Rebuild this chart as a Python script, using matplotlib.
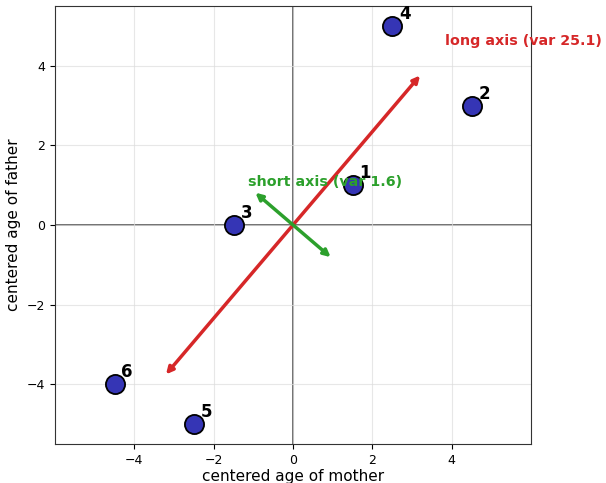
import numpy as np
import matplotlib
matplotlib.use("Agg")
import matplotlib.pyplot as plt

# centered ages of six couples
mother = [1.5, 4.5, -1.5, 2.5, -2.5, -4.5]
father = [1.0, 3.0, 0.0, 5.0, -5.0, -4.0]
labels = ["1", "2", "3", "4", "5", "6"]

# principal axes from the covariance matrix
data = np.array([mother, father])
cov = np.cov(data)
evals, evecs = np.linalg.eigh(cov)
order = np.argsort(evals)[::-1]
evals = evals[order]
evecs = evecs[:, order]
if evecs[0, 0] < 0:
    evecs[:, 0] *= -1
if evecs[0, 1] > 0:
    evecs[:, 1] *= -1

fig = plt.figure(figsize=(6.06, 4.83), dpi=100)
ax = fig.add_axes([0.0908, 0.081, 0.7855, 0.9066])

ax.axhline(0, color="#555555", lw=1.2, zorder=1)
ax.axvline(0, color="#555555", lw=1.2, zorder=1)
ax.grid(True, color="#dddddd", lw=0.8, alpha=0.7, zorder=0)

ax.scatter(mother, father, s=190, color="#3535b5", edgecolor="black",
           linewidth=1.3, zorder=4)
for x, y, lab in zip(mother, father, labels):
    ax.annotate(lab, (x, y), xytext=(5, 5), textcoords="offset points",
                fontsize=12, fontweight="bold", zorder=5)

colors = ["#d62728", "#2ca02c"]
names = ["long axis", "short axis"]
for i in range(2):
    v = evecs[:, i] * np.sqrt(evals[i]) * 0.985
    ax.annotate("", xy=(v[0], v[1]), xytext=(-v[0], -v[1]),
                arrowprops=dict(arrowstyle="<|-|>", color=colors[i], lw=2.5,
                                mutation_scale=10, shrinkA=0, shrinkB=0),
                zorder=3)
    ax.text(1.2 * v[0], 1.2 * v[1] + 0.11, f"{names[i]} (var {evals[i]:.1f})",
            color=colors[i], fontsize=10.3, fontweight="bold",
            ha="left", va="center", zorder=6, clip_on=False)

ax.set_xlim(-6, 6)
ax.set_ylim(-5.5, 5.5)
ax.set_xticks([-4, -2, 0, 2, 4])
ax.set_yticks([-4, -2, 0, 2, 4])
ax.tick_params(labelsize=9)
for sp in ax.spines.values():
    sp.set_color("#333333")
ax.set_xlabel("centered age of mother", fontsize=11, labelpad=2)
ax.set_ylabel("centered age of father", fontsize=11)

fig.savefig("out.png", dpi=100)
